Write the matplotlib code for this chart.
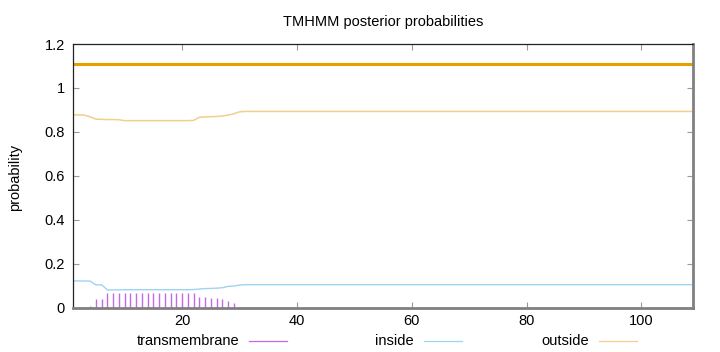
import numpy as np
import matplotlib
matplotlib.use("Agg")
import matplotlib.pyplot as plt
from matplotlib.lines import Line2D

plt.rcParams['font.family'] = ['Liberation Sans', 'DejaVu Sans']

# sequence positions 1..109
positions = np.arange(1, 110)

# posterior probability per residue
outside_head = [0.877, 0.877, 0.876, 0.868, 0.858, 0.857, 0.856, 0.856, 0.855,
                0.851, 0.851, 0.851, 0.851, 0.851, 0.851, 0.851, 0.851, 0.851,
                0.851, 0.851, 0.851, 0.852, 0.866, 0.868, 0.869, 0.870, 0.872,
                0.876, 0.882, 0.891, 0.893]
inside_head = [0.121, 0.121, 0.121, 0.120, 0.103, 0.103, 0.080, 0.080, 0.080,
               0.081, 0.081, 0.081, 0.081, 0.081, 0.081, 0.081, 0.081, 0.081,
               0.081, 0.081, 0.081, 0.082, 0.084, 0.086, 0.087, 0.088, 0.090,
               0.096, 0.098, 0.102, 0.104]
tm_head = [0.0, 0.0, 0.0, 0.008, 0.040, 0.040, 0.065, 0.065, 0.066,
           0.068, 0.068, 0.068, 0.068, 0.068, 0.068, 0.068, 0.068, 0.068,
           0.068, 0.068, 0.068, 0.067, 0.050, 0.046, 0.044, 0.043, 0.040,
           0.028, 0.022, 0.0, 0.0]

n_tail = len(positions) - len(outside_head)
outside = np.array(outside_head + [0.893] * n_tail)
inside = np.array(inside_head + [0.104] * n_tail)
transmembrane = np.array(tm_head + [0.0] * n_tail)

# predicted topology: whole sequence outside
region_start, region_end, region_level = 1, 109, 1.11

col_tm = '#c26ae6'
col_in = '#9fd3f2'
col_out = '#f1cf8c'
col_region = '#e69f00'

fig = plt.figure(figsize=(7.2, 3.52), dpi=100)
ax = fig.add_axes([0.1014, 0.1264, 0.8611, 0.7486])

ax.vlines(positions[transmembrane > 0], 0, transmembrane[transmembrane > 0],
          color=col_tm, lw=1.0)
ax.plot(positions, inside, color=col_in, lw=1.0)
ax.plot(positions, outside, color=col_out, lw=1.1)
ax.plot([region_start, region_end], [region_level, region_level],
        color=col_region, lw=2.2, solid_capstyle='butt')

ax.set_xlim(1, 109)
ax.set_ylim(0, 1.2)
ax.set_xticks([20, 40, 60, 80, 100])
ax.set_yticks([0, 0.2, 0.4, 0.6, 0.8, 1.0, 1.2])
ax.set_yticklabels(['0', '0.2', '0.4', '0.6', '0.8', '1', '1.2'])
ax.tick_params(direction='in', length=4, width=0.8, color='#999999',
               labelsize=10.5, top=True, right=True, pad=6)
ax.tick_params(axis='x', pad=5)

for side in ('left', 'top'):
    ax.spines[side].set_color('#222222')
    ax.spines[side].set_linewidth(0.9)
for side in ('bottom', 'right'):
    ax.spines[side].set_color('#808080')
    ax.spines[side].set_linewidth(2.0)

fig.text(0.532, 0.938, 'TMHMM posterior probabilities', ha='center',
         va='center', fontsize=10.5)
fig.text(0.021, 0.497, 'probability', rotation=90, ha='center',
         va='center', fontsize=10.5)

# legend row along the bottom
legend_items = [('transmembrane', col_tm, 0.333, 0.346, 0.399),
                ('inside', col_in, 0.575, 0.589, 0.642),
                ('outside', col_out, 0.818, 0.832, 0.885)]
for label, colour, text_right, line_left, line_right in legend_items:
    fig.text(text_right, 0.031, label, ha='right', va='center', fontsize=10.5)
    fig.add_artist(Line2D([line_left, line_right], [0.031, 0.031],
                          color=colour, lw=0.9, transform=fig.transFigure))

fig.savefig('out.png', dpi=100)
